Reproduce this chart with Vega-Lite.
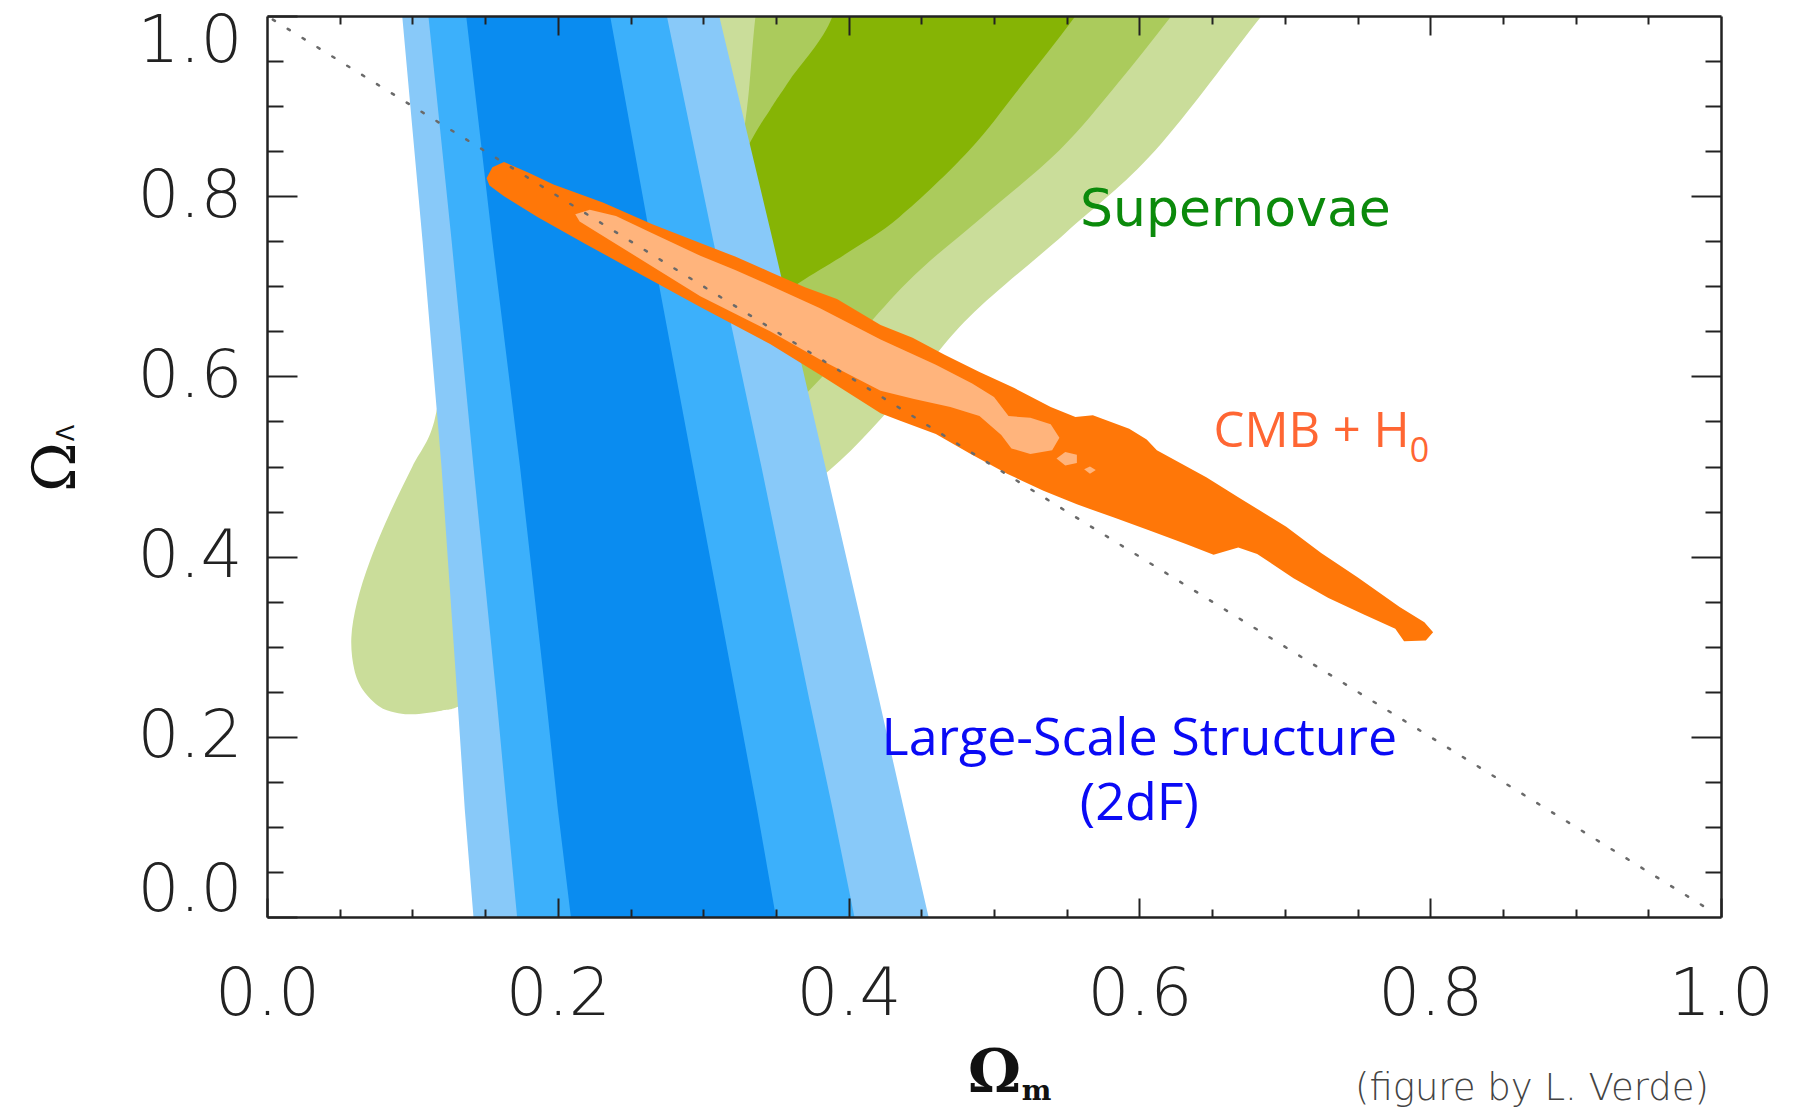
{
"$schema": "https://vega.github.io/schema/vega-lite/v6.json",
"width": 1454, "height": 901,
"autosize": {"type": "none"},
"padding": {"left": 267, "top": 16, "right": 74, "bottom": 191},
"background": "white",
"config": {"view": {"stroke": null}, "axis": {"grid": false, "tickColor": "#222222", "tickWidth": 2, "domainColor": "#222222", "domainWidth": 2.5, "labelOverlap": false}},
"datasets": {
"sn3": [{"i":0,"x":0.100,"y":0.225},{"i":1,"x":0.120,"y":0.229},{"i":2,"x":0.135,"y":0.236},{"i":3,"x":0.18,"y":0.275},{"i":4,"x":0.25,"y":0.345},{"i":5,"x":0.32,"y":0.418},{"i":6,"x":0.387,"y":0.496},{"i":7,"x":0.44,"y":0.585},{"i":8,"x":0.483,"y":0.666},{"i":9,"x":0.549,"y":0.759},{"i":10,"x":0.611,"y":0.851},{"i":11,"x":0.684,"y":1.0},{"i":12,"x":0.735,"y":1.1},{"i":13,"x":0.20,"y":1.1},{"i":14,"x":0.17,"y":1.0},{"i":15,"x":0.14,"y":0.8},{"i":16,"x":0.125,"y":0.65},{"i":17,"x":0.115,"y":0.55},{"i":18,"x":0.100,"y":0.50},{"i":19,"x":0.085,"y":0.45},{"i":20,"x":0.071,"y":0.396},{"i":21,"x":0.062,"y":0.35},{"i":22,"x":0.058,"y":0.31},{"i":23,"x":0.060,"y":0.275},{"i":24,"x":0.066,"y":0.252},{"i":25,"x":0.077,"y":0.234},{"i":26,"x":0.088,"y":0.227}],
"sn2": [{"i":0,"x":0.16,"y":0.37},{"i":1,"x":0.2,"y":0.40},{"i":2,"x":0.27,"y":0.45},{"i":3,"x":0.33,"y":0.52},{"i":4,"x":0.378,"y":0.593},{"i":5,"x":0.44,"y":0.704},{"i":6,"x":0.492,"y":0.777},{"i":7,"x":0.545,"y":0.851},{"i":8,"x":0.585,"y":0.925},{"i":9,"x":0.622,"y":1.0},{"i":10,"x":0.67,"y":1.1},{"i":11,"x":0.345,"y":1.1},{"i":12,"x":0.336,"y":1.0},{"i":13,"x":0.330,"y":0.896},{"i":14,"x":0.322,"y":0.84},{"i":15,"x":0.29,"y":0.75},{"i":16,"x":0.24,"y":0.62},{"i":17,"x":0.19,"y":0.50},{"i":18,"x":0.165,"y":0.42}],
"sn1": [{"i":0,"x":0.30,"y":0.64},{"i":1,"x":0.33,"y":0.665},{"i":2,"x":0.369,"y":0.707},{"i":3,"x":0.40,"y":0.738},{"i":4,"x":0.435,"y":0.777},{"i":5,"x":0.483,"y":0.851},{"i":6,"x":0.52,"y":0.925},{"i":7,"x":0.556,"y":1.0},{"i":8,"x":0.60,"y":1.1},{"i":9,"x":0.40,"y":1.1},{"i":10,"x":0.389,"y":1.0},{"i":11,"x":0.36,"y":0.93},{"i":12,"x":0.346,"y":0.896},{"i":13,"x":0.332,"y":0.859},{"i":14,"x":0.30,"y":0.76},{"i":15,"x":0.28,"y":0.68}],
"lss3": [{"i":0,"x":0.142,"y":0},{"i":1,"x":0.136,"y":0.12},{"i":2,"x":0.131,"y":0.241},{"i":3,"x":0.12,"y":0.5},{"i":4,"x":0.107,"y":0.75},{"i":5,"x":0.093,"y":1.0},{"i":6,"x":0.311,"y":1.0},{"i":7,"x":0.348,"y":0.75},{"i":8,"x":0.384,"y":0.5},{"i":9,"x":0.421,"y":0.241},{"i":10,"x":0.438,"y":0.12},{"i":11,"x":0.455,"y":0}],
"lss2": [{"i":0,"x":0.172,"y":0},{"i":1,"x":0.165,"y":0.12},{"i":2,"x":0.158,"y":0.241},{"i":3,"x":0.142,"y":0.5},{"i":4,"x":0.127,"y":0.75},{"i":5,"x":0.111,"y":1.0},{"i":6,"x":0.275,"y":1.0},{"i":7,"x":0.307,"y":0.75},{"i":8,"x":0.340,"y":0.5},{"i":9,"x":0.373,"y":0.241},{"i":10,"x":0.389,"y":0.12},{"i":11,"x":0.404,"y":0}],
"lss1": [{"i":0,"x":0.209,"y":0},{"i":1,"x":0.2,"y":0.12},{"i":2,"x":0.192,"y":0.241},{"i":3,"x":0.174,"y":0.5},{"i":4,"x":0.155,"y":0.75},{"i":5,"x":0.137,"y":1.0},{"i":6,"x":0.236,"y":1.0},{"i":7,"x":0.264,"y":0.75},{"i":8,"x":0.293,"y":0.5},{"i":9,"x":0.323,"y":0.241},{"i":10,"x":0.337,"y":0.12},{"i":11,"x":0.350,"y":0}],
"cmb2": [{"i":0,"x":0.151,"y":0.820},{"i":1,"x":0.155,"y":0.832},{"i":2,"x":0.163,"y":0.838},{"i":3,"x":0.180,"y":0.826},{"i":4,"x":0.197,"y":0.813},{"i":5,"x":0.231,"y":0.793},{"i":6,"x":0.265,"y":0.769},{"i":7,"x":0.298,"y":0.748},{"i":8,"x":0.322,"y":0.733},{"i":9,"x":0.346,"y":0.716},{"i":10,"x":0.370,"y":0.699},{"i":11,"x":0.392,"y":0.686},{"i":12,"x":0.422,"y":0.657},{"i":13,"x":0.444,"y":0.643},{"i":14,"x":0.466,"y":0.624},{"i":15,"x":0.490,"y":0.605},{"i":16,"x":0.514,"y":0.587},{"i":17,"x":0.539,"y":0.566},{"i":18,"x":0.556,"y":0.555},{"i":19,"x":0.568,"y":0.557},{"i":20,"x":0.593,"y":0.542},{"i":21,"x":0.605,"y":0.530},{"i":22,"x":0.612,"y":0.518},{"i":23,"x":0.646,"y":0.488},{"i":24,"x":0.668,"y":0.466},{"i":25,"x":0.701,"y":0.433},{"i":26,"x":0.725,"y":0.404},{"i":27,"x":0.750,"y":0.377},{"i":28,"x":0.779,"y":0.344},{"i":29,"x":0.796,"y":0.327},{"i":30,"x":0.802,"y":0.316},{"i":31,"x":0.797,"y":0.307},{"i":32,"x":0.782,"y":0.306},{"i":33,"x":0.776,"y":0.320},{"i":34,"x":0.754,"y":0.336},{"i":35,"x":0.730,"y":0.354},{"i":36,"x":0.706,"y":0.376},{"i":37,"x":0.681,"y":0.403},{"i":38,"x":0.668,"y":0.410},{"i":39,"x":0.651,"y":0.402},{"i":40,"x":0.632,"y":0.414},{"i":41,"x":0.607,"y":0.429},{"i":42,"x":0.583,"y":0.443},{"i":43,"x":0.557,"y":0.458},{"i":44,"x":0.534,"y":0.473},{"i":45,"x":0.509,"y":0.492},{"i":46,"x":0.484,"y":0.514},{"i":47,"x":0.460,"y":0.536},{"i":48,"x":0.435,"y":0.551},{"i":49,"x":0.422,"y":0.559},{"i":50,"x":0.380,"y":0.602},{"i":51,"x":0.346,"y":0.636},{"i":52,"x":0.298,"y":0.677},{"i":53,"x":0.254,"y":0.716},{"i":54,"x":0.219,"y":0.747},{"i":55,"x":0.186,"y":0.777},{"i":56,"x":0.163,"y":0.800},{"i":57,"x":0.153,"y":0.812}],
"cmb1": [{"part":"a","i":0,"x":0.212,"y":0.780},{"part":"a","i":1,"x":0.222,"y":0.785},{"part":"a","i":2,"x":0.240,"y":0.778},{"part":"a","i":3,"x":0.265,"y":0.759},{"part":"a","i":4,"x":0.298,"y":0.734},{"part":"a","i":5,"x":0.322,"y":0.718},{"part":"a","i":6,"x":0.346,"y":0.701},{"part":"a","i":7,"x":0.38,"y":0.676},{"part":"a","i":8,"x":0.422,"y":0.641},{"part":"a","i":9,"x":0.46,"y":0.613},{"part":"a","i":10,"x":0.485,"y":0.592},{"part":"a","i":11,"x":0.500,"y":0.577},{"part":"a","i":12,"x":0.510,"y":0.556},{"part":"a","i":13,"x":0.525,"y":0.554},{"part":"a","i":14,"x":0.539,"y":0.547},{"part":"a","i":15,"x":0.545,"y":0.532},{"part":"a","i":16,"x":0.540,"y":0.518},{"part":"a","i":17,"x":0.525,"y":0.514},{"part":"a","i":18,"x":0.512,"y":0.520},{"part":"a","i":19,"x":0.505,"y":0.535},{"part":"a","i":20,"x":0.49,"y":0.556},{"part":"a","i":21,"x":0.470,"y":0.566},{"part":"a","i":22,"x":0.445,"y":0.575},{"part":"a","i":23,"x":0.422,"y":0.584},{"part":"a","i":24,"x":0.38,"y":0.619},{"part":"a","i":25,"x":0.346,"y":0.650},{"part":"a","i":26,"x":0.298,"y":0.689},{"part":"a","i":27,"x":0.26,"y":0.727},{"part":"a","i":28,"x":0.235,"y":0.752},{"part":"a","i":29,"x":0.215,"y":0.772},
{"part":"b","i":0,"x":0.543,"y":0.509},{"part":"b","i":1,"x":0.549,"y":0.516},{"part":"b","i":2,"x":0.557,"y":0.513},{"part":"b","i":3,"x":0.557,"y":0.504},{"part":"b","i":4,"x":0.549,"y":0.501},
{"part":"c","i":0,"x":0.562,"y":0.497},{"part":"c","i":1,"x":0.566,"y":0.500},{"part":"c","i":2,"x":0.570,"y":0.496},{"part":"c","i":3,"x":0.566,"y":0.492}],
"flat": [{"i":0,"x":0.004,"y":0.996},{"i":1,"x":0.99,"y":0.01}]
},
"encoding": {
"x": {"field": "x", "type": "quantitative", "scale": {"domain": [0, 1], "nice": false, "zero": false}, "axis": null},
"y": {"field": "y", "type": "quantitative", "scale": {"domain": [0, 1], "nice": false, "zero": false}, "axis": null}
},
"layer": [
{"data": {"name": "sn3"}, "mark": {"type": "line", "filled": true, "color": "#cadd9a", "interpolate": "cardinal-closed", "clip": true},
 "encoding": {
  "x": {"field": "x", "type": "quantitative", "scale": {"domain": [0, 1], "nice": false, "zero": false},
   "axis": {"orient": "bottom", "values": [0, 0.2, 0.4, 0.6, 0.8, 1], "format": ".1f", "tickSize": -19, "domain": true, "labelFont": "DejaVu Sans", "labelFontWeight": 200, "labelFontSize": 66, "labelColor": "#222222", "labelPadding": 64, "labelFlush": false, "title": "Ω", "titleFont": "DejaVu Serif", "titleFontWeight": "bold", "titleFontSize": 60, "titleColor": "#111111", "titlePadding": 17, "zindex": 1}},
  "y": {"field": "y", "type": "quantitative", "scale": {"domain": [0, 1], "nice": false, "zero": false},
   "axis": {"orient": "left", "values": [0, 0.2, 0.4, 0.6, 0.8, 1], "format": ".1f", "tickSize": -30, "domain": true, "labelFont": "DejaVu Sans", "labelFontWeight": 200, "labelFontSize": 66, "labelColor": "#222222", "labelPadding": 55, "labelFlush": true, "labelFlushOffset": 7, "title": "Ω", "titleFont": "DejaVu Serif", "titleFontWeight": "normal", "titleFontSize": 60, "titleColor": "#111111", "titlePadding": 50, "zindex": 1}},
  "order": {"field": "i", "type": "quantitative"}}},
{"data": {"name": "sn2"}, "mark": {"type": "line", "filled": true, "color": "#abcb5c", "interpolate": "cardinal-closed", "clip": true},
 "encoding": {
  "x": {"field": "x", "type": "quantitative", "scale": {"domain": [0, 1], "nice": false, "zero": false},
   "axis": {"orient": "bottom", "values": [0.05, 0.1, 0.15, 0.25, 0.3, 0.35, 0.45, 0.5, 0.55, 0.65, 0.7, 0.75, 0.85, 0.9, 0.95], "tickSize": -8, "domain": false, "labels": false, "title": null, "zindex": 1}},
  "y": {"field": "y", "type": "quantitative", "scale": {"domain": [0, 1], "nice": false, "zero": false},
   "axis": {"orient": "left", "values": [0.05, 0.1, 0.15, 0.25, 0.3, 0.35, 0.45, 0.5, 0.55, 0.65, 0.7, 0.75, 0.85, 0.9, 0.95], "tickSize": -16, "domain": false, "labels": false, "title": null, "zindex": 1}},
  "order": {"field": "i", "type": "quantitative"}}},
{"data": {"name": "sn1"}, "mark": {"type": "line", "filled": true, "color": "#86b405", "interpolate": "cardinal-closed", "clip": true},
 "encoding": {
  "x": {"field": "x", "type": "quantitative", "scale": {"domain": [0, 1], "nice": false, "zero": false},
   "axis": {"orient": "top", "values": [0.2, 0.4, 0.6, 0.8], "tickSize": -19, "domain": true, "labels": false, "title": null, "zindex": 1}},
  "y": {"field": "y", "type": "quantitative", "scale": {"domain": [0, 1], "nice": false, "zero": false},
   "axis": {"orient": "right", "values": [0.2, 0.4, 0.6, 0.8], "tickSize": -30, "domain": true, "labels": false, "title": null, "zindex": 1}},
  "order": {"field": "i", "type": "quantitative"}}},
{"data": {"name": "lss3"}, "mark": {"type": "line", "filled": true, "color": "#88c9f9", "clip": true},
 "encoding": {
  "x": {"field": "x", "type": "quantitative", "scale": {"domain": [0, 1], "nice": false, "zero": false},
   "axis": {"orient": "top", "values": [0.05, 0.1, 0.15, 0.25, 0.3, 0.35, 0.45, 0.5, 0.55, 0.65, 0.7, 0.75, 0.85, 0.9, 0.95], "tickSize": -8, "domain": false, "labels": false, "title": null, "zindex": 1}},
  "y": {"field": "y", "type": "quantitative", "scale": {"domain": [0, 1], "nice": false, "zero": false},
   "axis": {"orient": "right", "values": [0.05, 0.1, 0.15, 0.25, 0.3, 0.35, 0.45, 0.5, 0.55, 0.65, 0.7, 0.75, 0.85, 0.9, 0.95], "tickSize": -16, "domain": false, "labels": false, "title": null, "zindex": 1}},
  "order": {"field": "i", "type": "quantitative"}}},
{"data": {"name": "lss2"}, "mark": {"type": "line", "filled": true, "color": "#3cb0fb", "clip": true},
 "encoding": {"order": {"field": "i", "type": "quantitative"}}},
{"data": {"name": "lss1"}, "mark": {"type": "line", "filled": true, "color": "#0a8cf0", "clip": true},
 "encoding": {"order": {"field": "i", "type": "quantitative"}}},
{"data": {"name": "cmb2"}, "mark": {"type": "line", "filled": true, "color": "#ff7708", "clip": true},
 "encoding": {"order": {"field": "i", "type": "quantitative"}}},
{"data": {"name": "cmb1"}, "mark": {"type": "line", "filled": true, "color": "#ffb47c", "clip": true},
 "encoding": {"order": {"field": "i", "type": "quantitative"}, "detail": {"field": "part", "type": "nominal"}}},
{"data": {"name": "flat"}, "mark": {"type": "line", "color": "#6a6a6a", "strokeWidth": 2.5, "strokeDash": [2.5, 15], "strokeCap": "round"},
 "encoding": {"order": {"field": "i", "type": "quantitative"}}},
{"data": {"values": [{"x": 0.666, "y": 0.767, "text": "Supernovae"}]},
 "mark": {"type": "text", "font": "DejaVu Sans", "fontSize": 52, "color": "#0b8a0b", "align": "center", "baseline": "alphabetic"},
 "encoding": {"text": {"field": "text"}}},
{"data": {"values": [{"x": 0.600, "y": 0.180, "text": "Large-Scale Structure"}, {"x": 0.600, "y": 0.108, "text": "(2dF)"}]},
 "mark": {"type": "text", "font": "Open Sans", "fontSize": 52, "color": "#0a0af5", "align": "center", "baseline": "alphabetic"},
 "encoding": {"text": {"field": "text"}}},
{"data": {"values": [{"x": 0.651, "y": 0.522, "text": "CMB + H"}]},
 "mark": {"type": "text", "font": "Open Sans", "fontSize": 49, "color": "#ff6633", "align": "left", "baseline": "alphabetic"},
 "encoding": {"text": {"field": "text"}}},
{"data": {"values": [{"x": 0.786, "y": 0.505, "text": "0"}]},
 "mark": {"type": "text", "font": "Open Sans", "fontSize": 34, "color": "#ff6633", "align": "left", "baseline": "alphabetic"},
 "encoding": {"text": {"field": "text"}}},
{"data": {"values": [{"x": 0.870, "y": -0.203, "text": "(figure by L. Verde)"}]},
 "mark": {"type": "text", "font": "DejaVu Sans", "fontWeight": 200, "fontSize": 37, "color": "#444444", "align": "center", "baseline": "alphabetic"},
 "encoding": {"text": {"field": "text"}}},
{"data": {"values": [{"x": 0.519, "y": -0.203, "text": "m"}]},
 "mark": {"type": "text", "font": "DejaVu Serif", "fontWeight": "bold", "fontSize": 28, "color": "#111111", "align": "left", "baseline": "alphabetic"},
 "encoding": {"text": {"field": "text"}}},
{"data": {"values": [{"x": -0.1376, "y": 0.537, "text": "Λ"}]},
 "mark": {"type": "text", "font": "DejaVu Sans", "fontSize": 24, "color": "#111111", "align": "center", "baseline": "middle", "angle": 270},
 "encoding": {"text": {"field": "text"}}}
],
"resolve": {"scale": {"x": "shared", "y": "shared"}, "axis": {"x": "independent", "y": "independent"}}
}
